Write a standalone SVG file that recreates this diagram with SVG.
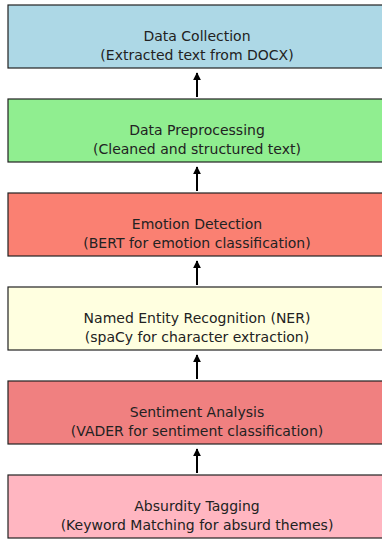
<svg xmlns="http://www.w3.org/2000/svg" width="382" height="539" viewBox="0 0 382 539">
<style>
.box{stroke:#222;stroke-width:1.2}
.t{font-family:"DejaVu Sans",sans-serif;font-size:14px;fill:#222;text-anchor:middle}
.c{stroke:#000;stroke-width:2;fill:none}
</style>
<defs>
<marker id="ah" viewBox="0 0 10 10" refX="9" refY="5" markerWidth="4" markerHeight="4" orient="auto" markerUnits="strokeWidth">
<path d="M0,0 L10,5 L0,10 z" fill="#000"/>
</marker>
</defs>
<rect width="382" height="539" fill="#fff"/>
<g id="n1"><rect class="box" x="8" y="5" width="380" height="63" fill="#ADD8E6"/>
<text class="t" x="197" y="41">Data Collection</text><text class="t" x="197" y="60">(Extracted text from DOCX)</text></g>
<g id="n2"><rect class="box" x="8" y="99" width="380" height="63" fill="#90EE90"/>
<text class="t" x="197" y="135">Data Preprocessing</text><text class="t" x="197" y="154">(Cleaned and structured text)</text></g>
<g id="n3"><rect class="box" x="8" y="193" width="380" height="63" fill="#FA8072"/>
<text class="t" x="197" y="229">Emotion Detection</text><text class="t" x="197" y="248">(BERT for emotion classification)</text></g>
<g id="n4"><rect class="box" x="8" y="287" width="380" height="63" fill="#FFFFE0"/>
<text class="t" x="197" y="323">Named Entity Recognition (NER)</text><text class="t" x="197" y="342">(spaCy for character extraction)</text></g>
<g id="n5"><rect class="box" x="8" y="381" width="380" height="63" fill="#F08080"/>
<text class="t" x="197" y="417">Sentiment Analysis</text><text class="t" x="197" y="436">(VADER for sentiment classification)</text></g>
<g id="n6"><rect class="box" x="8" y="475" width="380" height="63" fill="#FFB6C1"/>
<text class="t" x="197" y="511">Absurdity Tagging</text><text class="t" x="197" y="530">(Keyword Matching for absurd themes)</text></g>
<g id="connectors">
<line class="c" x1="197" y1="97" x2="197" y2="73" marker-end="url(#ah)"/>
<line class="c" x1="197" y1="191" x2="197" y2="167" marker-end="url(#ah)"/>
<line class="c" x1="197" y1="285" x2="197" y2="261" marker-end="url(#ah)"/>
<line class="c" x1="197" y1="379" x2="197" y2="355" marker-end="url(#ah)"/>
<line class="c" x1="197" y1="473" x2="197" y2="449" marker-end="url(#ah)"/>
</g>
</svg>
